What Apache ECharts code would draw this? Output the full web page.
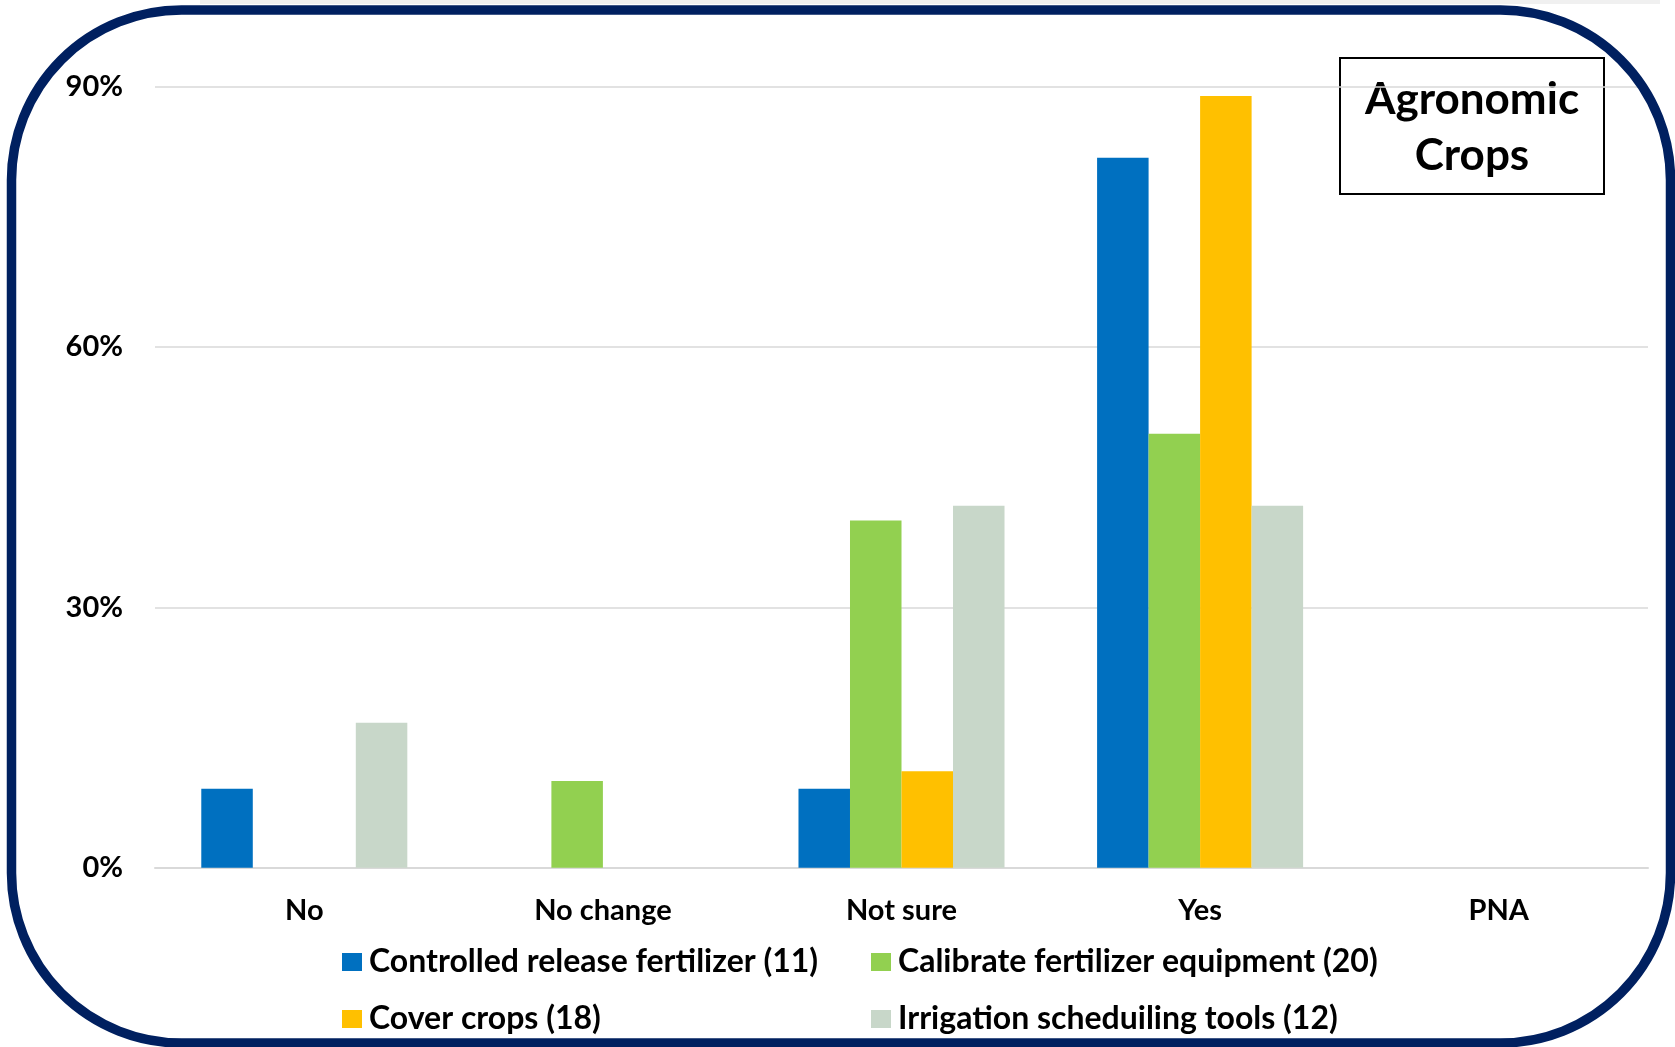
<!DOCTYPE html>
<html>
<head>
<meta charset="utf-8">
<title>Agronomic Crops</title>
<script src="https://cdn.jsdelivr.net/npm/echarts@6/dist/echarts.min.js"></script>
<style>
  html, body { margin: 0; padding: 0; background: #ffffff; }
  #chart { width: 1675px; height: 1047px; }
</style>
</head>
<body>
<div id="chart"></div>
<script>
// Response categories along the x axis
const categories = ['No', 'No change', 'Not sure', 'Yes', 'PNA'];

// Share of respondents (%) per practice
const controlledRelease = [9.1, 0, 9.1, 81.8, 0];
const calibrateEquipment = [0, 10, 40, 50, 0];
const coverCrops = [0, 0, 11.1, 88.9, 0];
const irrigationTools = [16.7, 0, 41.7, 41.7, 0];

const seriesNames = [
  'Controlled release fertilizer (11)',
  'Calibrate fertilizer equipment (20)',
  'Cover crops (18)',
  'Irrigation scheduiling tools (12)'
];
const yTicks = { min: 0, max: 90, interval: 30 };

const FONT = 'Lato, "Open Sans", sans-serif';
const colors = ['#0070C0', '#92D050', '#FFC000', '#C8D7C9'];

const chart = echarts.init(document.getElementById('chart'));

function legendAt(name, left, top) {
  return {
    show: true,
    data: [name],
    left: left,
    top: top,
    padding: 0,
    icon: 'rect',
    itemWidth: 20,
    itemHeight: 18,
    selectedMode: false,
    textStyle: {
      fontFamily: FONT,
      fontWeight: 'bold',
      fontSize: 32,
      lineHeight: 32,
      color: '#000',
      padding: [0, 0, 0, 2]
    }
  };
}

const values = [controlledRelease, calibrateEquipment, coverCrops, irrigationTools];

chart.setOption({
  animation: false,
  backgroundColor: '#ffffff',
  color: colors,
  grid: { left: 155, right: 27, top: 86.5, bottom: 179.3, containLabel: false },
  legend: [
    legendAt(seriesNames[0], 342, 946),
    legendAt(seriesNames[1], 871, 946),
    legendAt(seriesNames[2], 342, 1003),
    legendAt(seriesNames[3], 871, 1003)
  ],
  xAxis: {
    type: 'category',
    data: categories,
    axisTick: { show: false },
    axisLine: { lineStyle: { color: '#d9d9d9', width: 2 } },
    axisLabel: {
      margin: 28,
      fontFamily: FONT,
      fontWeight: 'bold',
      fontSize: 29,
      color: '#000'
    }
  },
  yAxis: {
    type: 'value',
    min: yTicks.min,
    max: yTicks.max,
    interval: yTicks.interval,
    axisLine: { show: false },
    axisTick: { show: false },
    splitLine: { lineStyle: { color: '#d9d9d9', width: 1.5 } },
    axisLabel: {
      margin: 32,
      formatter: '{value}%',
      fontFamily: FONT,
      fontWeight: 'bold',
      fontSize: 29,
      color: '#000'
    }
  },
  series: seriesNames.map((name, i) => ({
    name: name,
    type: 'bar',
    data: values[i],
    barGap: '0%',
    barCategoryGap: '31%',
    itemStyle: { color: colors[i] }
  })),
  graphic: [
    {
      // faint shadow strip above the frame
      type: 'rect',
      shape: { x: 200, y: 0, width: 1460, height: 4 },
      style: { fill: '#f0f0f0' },
      silent: true,
      z: 0
    },
    {
      // rounded navy frame
      type: 'rect',
      shape: { x: 11.5, y: 10, width: 1659, height: 1033, r: 170 },
      style: { fill: 'none', stroke: '#002060', lineWidth: 9.5 },
      silent: true,
      z: 100
    },
    {
      type: 'group',
      z: 90,
      children: [
        {
          type: 'rect',
          shape: { x: 1340, y: 58, width: 264, height: 136 },
          style: { fill: '#ffffff', stroke: '#000000', lineWidth: 2 }
        },
        {
          type: 'text',
          x: 1472, y: 100,
          style: {
            text: 'Agronomic',
            fontFamily: FONT, fontWeight: 'bold', fontSize: 44,
            fill: '#000', align: 'center', verticalAlign: 'middle'
          }
        },
        {
          type: 'text',
          x: 1472, y: 156,
          style: {
            text: 'Crops',
            fontFamily: FONT, fontWeight: 'bold', fontSize: 44,
            fill: '#000', align: 'center', verticalAlign: 'middle'
          }
        }
      ]
    }
  ]
});
</script>
</body>
</html>
